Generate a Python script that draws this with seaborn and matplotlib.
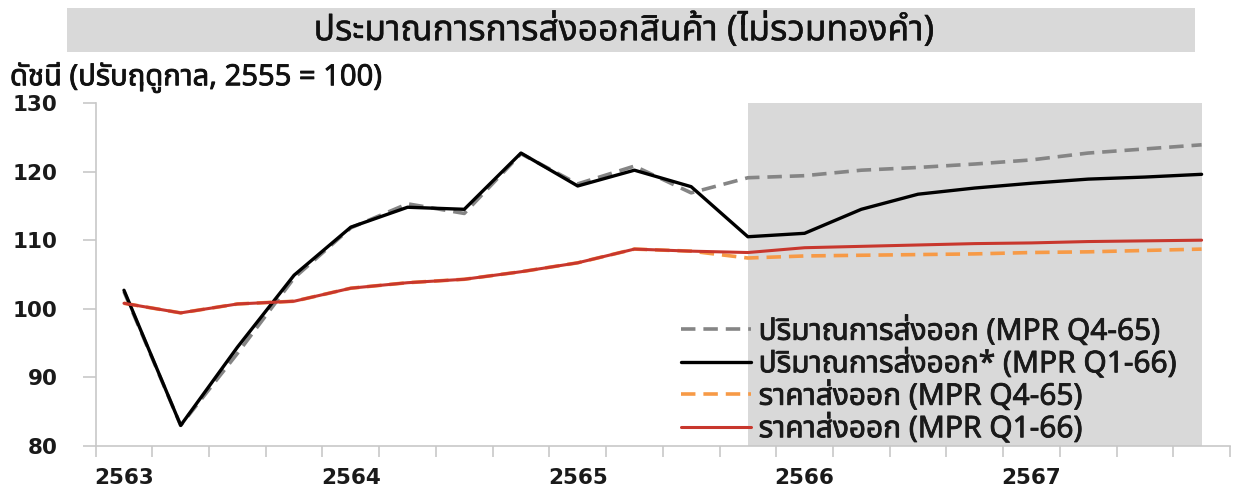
import numpy as np
import pandas as pd
import matplotlib
matplotlib.use("Agg")
from matplotlib import pyplot as plt
from matplotlib import font_manager
from matplotlib import patheffects as pe
from matplotlib.ft2font import FT2Font
from matplotlib.lines import Line2D
from matplotlib.patches import Rectangle
import seaborn as sns

# quarterly data, 2563Q1 .. 2567Q4
quarters = ["%dQ%d" % (y, q) for y in range(2563, 2568) for q in range(1, 5)]
year_labels = ["2563", "2564", "2565", "2566", "2567"]

vol_q4_65 = [102.5, 83.0, 93.5, 104.5, 111.8, 115.3, 113.9, 122.6, 118.2, 120.8,
             116.9, 119.1, 119.4, 120.2, 120.6, 121.1, 121.7, 122.7, 123.3, 123.9]
vol_q1_66 = [102.7, 83.0, 94.4, 104.9, 111.9, 114.8, 114.5, 122.7, 117.9, 120.2,
             117.8, 110.5, 111.0, 114.5, 116.7, 117.6, 118.3, 118.9, 119.2, 119.6]
price_q4_65 = [100.8, 99.4, 100.7, 101.1, 103.0, 103.8, 104.3, 105.4, 106.7, 108.7,
               108.4, 107.4, 107.7, 107.8, 107.9, 108.0, 108.2, 108.3, 108.5, 108.7]
price_q1_66 = [100.8, 99.4, 100.7, 101.1, 103.0, 103.8, 104.3, 105.4, 106.7, 108.7,
               108.4, 108.2, 108.9, 109.1, 109.3, 109.5, 109.6, 109.8, 109.9, 110.0]

labels = ["ปริมาณการส่งออก (MPR Q4-65)",
          "ปริมาณการส่งออก* (MPR Q1-66)",
          "ราคาส่งออก (MPR Q4-65)",
          "ราคาส่งออก (MPR Q1-66)"]
title = "ประมาณการการส่งออกสินค้า (ไม่รวมทองคำ)"
ylabel = "ดัชนี (ปรับฤดูกาล, 2555 = 100)"
forecast_start = 11


def find_thai_font():
    preferred = ["Tahoma", "Leelawadee UI", "Noto Sans Thai", "Noto Sans Thai UI",
                 "Loma", "Garuda", "Sarabun", "Waree", "Kinnari", "Norasi", "Umpush"]
    found = {}
    for f in font_manager.fontManager.ttflist:
        if f.name in found:
            continue
        try:
            cmap = FT2Font(f.fname).get_charmap()
        except Exception:
            continue
        if 0x0E01 in cmap and 0x0E31 in cmap:
            found[f.name] = f.fname
    for name in preferred:
        if name in found:
            return name
    return next(iter(found), None)


sns.set_theme(style="white")
thai = find_thai_font()
fams = ([thai] if thai else []) + ["DejaVu Sans"]
plt.rcParams["font.family"] = fams

df = pd.DataFrame({
    "idx": np.arange(len(quarters)),
    "vol_old": vol_q4_65,
    "vol_new": vol_q1_66,
    "price_old": price_q4_65,
    "price_new": price_q1_66,
})

fig = plt.figure(figsize=(12.37, 4.88), dpi=100)
ax = fig.add_axes([0.0773, 0.0861, 0.9170, 0.7029])

ax.axvspan(forecast_start, len(quarters) - 1, color="#d9d9d9", lw=0, zorder=0)

c_gray = "#858585"
c_black = "#000000"
c_orange = "#f79a46"
c_red = "#c8372d"
dash = (0, (4, 2.2))

sns.lineplot(data=df, x="idx", y="vol_old", ax=ax, color=c_gray, lw=2.6,
             linestyle=dash, zorder=2)
sns.lineplot(data=df, x="idx", y="price_old", ax=ax, color=c_orange, lw=2.6,
             linestyle=dash, zorder=2)
sns.lineplot(data=df, x="idx", y="vol_new", ax=ax, color=c_black, lw=2.4, zorder=3)
sns.lineplot(data=df, x="idx", y="price_new", ax=ax, color=c_red, lw=2.2, zorder=3)

ax.set_xlim(-0.5, len(quarters) - 0.5)
ax.set_ylim(80, 130)
ax.set_xlabel("")
ax.set_ylabel("")

ax.set_xticks(np.arange(0, len(quarters), 4))
ax.set_xticklabels(year_labels)
ax.set_xticks(np.arange(-0.5, len(quarters), 1), minor=True)
ax.tick_params(axis="x", which="major", length=0, pad=16)
ax.tick_params(axis="x", which="minor", length=8, width=1.2, color="#c8c8c8",
               direction="out", bottom=True)
ax.set_yticks(np.arange(80, 131, 10))
ax.tick_params(axis="y", length=9.5, width=1.2, color="#c8c8c8", direction="out",
               left=True, pad=18)
for lab in ax.get_xticklabels() + ax.get_yticklabels():
    lab.set_fontfamily("DejaVu Sans")
    lab.set_fontweight("bold")
    lab.set_fontsize(15.5)
    lab.set_color("#1a1a1a")

for side in ["top", "right"]:
    ax.spines[side].set_visible(False)
for side in ["left", "bottom"]:
    ax.spines[side].set_color("#c8c8c8")
    ax.spines[side].set_linewidth(1.2)
ax.grid(False)

handles = [
    Line2D([], [], color=c_gray, lw=2.6, linestyle=dash),
    Line2D([], [], color=c_black, lw=2.4),
    Line2D([], [], color=c_orange, lw=2.6, linestyle=dash),
    Line2D([], [], color=c_red, lw=2.2),
]
leg = ax.legend(handles, labels, loc="upper left", bbox_to_anchor=(0.5055, 0.41),
                frameon=False, handlelength=2.35, handletextpad=0.25,
                labelspacing=0.1, prop={"size": 21.5}, borderaxespad=0)
for t in leg.get_texts():
    t.set_color("#1a1a1a")
    t.set_path_effects([pe.withStroke(linewidth=0.6, foreground="#1a1a1a")])

# title box
fig.patches.append(Rectangle((67 / 1237, 1 - 52 / 488), (1195 - 67) / 1237, 44 / 488,
                             transform=fig.transFigure, facecolor="#d9d9d9",
                             edgecolor="none", zorder=0))
fig.text(624 / 1237, 1 - 30 / 488, title, ha="center", va="center", fontsize=25.5,
         color="#111111",
         path_effects=[pe.withStroke(linewidth=0.3, foreground="#111111")])
fig.text(10 / 1237, 1 - 78 / 488, ylabel, ha="left", va="center", fontsize=21,
         color="#111111",
         path_effects=[pe.withStroke(linewidth=0.6, foreground="#111111")])

fig.savefig("out.png", dpi=100)
